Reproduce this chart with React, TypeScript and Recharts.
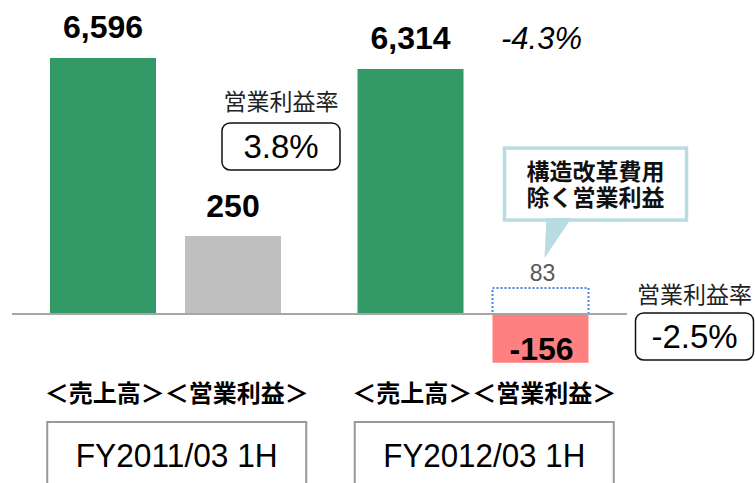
import React from 'react';
import {
  ComposedChart,
  Bar,
  Cell,
  XAxis,
  YAxis,
  LabelList,
  ReferenceLine,
} from 'recharts';

const periods = ['FY2011/03 1H', 'FY2012/03 1H'];
const sales = [6596, 6314];
const operatingProfit = [250, -156];
const profitExRestructuring = [null, 83];
const operatingMargin = ['3.8%', '-2.5%'];
const salesChange = [null, '-4.3%'];
const segmentLabel = '＜売上高＞＜営業利益＞';
const marginTitle = '営業利益率';
const calloutLines = ['構造改革費用', '除く営業利益'];

const data = periods.map((period, i) => ({
  period,
  sales: sales[i],
  profit: operatingProfit[i],
  exRestructuring: profitExRestructuring[i],
}));

const LATIN = "'Liberation Sans', Arial, 'Noto Sans CJK JP', sans-serif";
const CJK = "'Noto Sans CJK JP', 'Noto Sans CJK SC', sans-serif";

const profitColors = ['#bfbfbf', '#ff8080'];

const SalesLabel = (props: any) => {
  const { x, y, width, height, value, index } = props;
  const top = Math.min(y, y + height);
  const cx = x + width / 2;
  return (
    <g>
      <text x={cx} y={top - 20} textAnchor="middle" fontSize={32} fontWeight="bold" fontFamily={LATIN} fill="#000">
        {Number(value).toLocaleString('en-US')}
      </text>
      {salesChange[index] && (
        <text x={x + width + 78} y={top - 20} textAnchor="middle" fontSize={31} fontStyle="italic" fontFamily={LATIN} fill="#000">
          {salesChange[index]}
        </text>
      )}
    </g>
  );
};

const MarginBox = ({ cx, top, value }: { cx: number; top: number; value: string }) => (
  <g>
    <rect x={cx - 59} y={top} width={118} height={47} rx={8} fill="#fff" stroke="#111" strokeWidth={1.5} />
    <text x={cx} y={top + 35} textAnchor="middle" fontSize={33} fontFamily={LATIN} fill="#000">
      {value}
    </text>
  </g>
);

const ProfitLabel = (props: any) => {
  const { x, y, width, height, value, index } = props;
  const top = Math.min(y, y + height);
  const bottom = Math.max(y, y + height);
  const cx = x + width / 2;
  if (value >= 0) {
    const boxCx = x + width;
    const boxTop = top - 113;
    return (
      <g>
        <text x={cx} y={top - 19} textAnchor="middle" fontSize={32} fontWeight="bold" fontFamily={LATIN} fill="#000">
          {value}
        </text>
        <text x={boxCx} y={boxTop - 13} textAnchor="middle" fontSize={23} fontFamily={CJK} fill="#222">
          {marginTitle}
        </text>
        <MarginBox cx={boxCx} top={boxTop} value={operatingMargin[index]} />
      </g>
    );
  }
  const boxCx = x + width + 47 + 59;
  const boxTop = top - 1;
  return (
    <g>
      <text x={cx + 1} y={bottom - 3} textAnchor="middle" fontSize={32} fontWeight="bold" fontFamily={LATIN} fill="#000">
        {value}
      </text>
      <text x={boxCx} y={boxTop - 10} textAnchor="middle" fontSize={23} fontFamily={CJK} fill="#222">
        {marginTitle}
      </text>
      <MarginBox cx={boxCx} top={boxTop} value={operatingMargin[index]} />
    </g>
  );
};

const ExRestructuringLabel = (props: any) => {
  const { x, y, width, height, value } = props;
  if (value == null) return null;
  const top = Math.min(y, y + height);
  const cx = x + width / 2;
  const boxX = x + 12;
  const boxTop = top - 140;
  return (
    <g>
      <text x={cx + 2} y={top - 7} textAnchor="middle" fontSize={23} fontFamily={LATIN} fill="#595959">
        {value}
      </text>
      <rect x={boxX} y={boxTop} width={182} height={72} fill="#fff" stroke="#b7dde3" strokeWidth={3.5} />
      <polygon
        points={`${x + 54},${top - 70} ${x + 79},${top - 70} ${x + 52},${top - 30}`}
        fill="#b7dde3"
      />
      <text textAnchor="middle" fontSize={23} fontWeight="bold" fontFamily={CJK} fill="#111">
        {calloutLines.map((line, i) => (
          <tspan key={line} x={boxX + 91} y={boxTop + 32 + i * 26}>
            {line}
          </tspan>
        ))}
      </text>
    </g>
  );
};

const PeriodTick = (props: any) => {
  const { x, y, payload } = props;
  const cx = x + 11;
  return (
    <g>
      <text x={cx} y={y + 32} textAnchor="middle" fontSize={24} fontWeight="bold" fontFamily={CJK} fill="#000">
        {segmentLabel}
      </text>
      <rect x={cx - 129.5} y={y + 52} width={259} height={90} fill="none" stroke="#999" strokeWidth={2} />
      <text
        x={cx}
        y={y + 97}
        textAnchor="middle"
        fontSize={33}
        fontFamily={LATIN}
        fill="#000"
        textLength={202}
        lengthAdjust="spacingAndGlyphs"
      >
        {payload.value}
      </text>
    </g>
  );
};

export default function App() {
  return (
    <div style={{ position: 'absolute', left: 0, top: 0, width: 755, height: 483, background: '#fff' }}>
      <ComposedChart
        width={755}
        height={483}
        data={data}
        margin={{ top: 0, right: 128, bottom: 0, left: 12 }}
        barGap={29}
        stackOffset="sign"
      >
        <XAxis
          dataKey="period"
          axisLine={false}
          tickLine={false}
          tickSize={0}
          tickMargin={0}
          height={113}
          interval={0}
          tick={(p: any) => <PeriodTick {...p} />}
        />
        <YAxis yAxisId="s" hide domain={[-1443, 8090]} allowDataOverflow />
        <YAxis yAxisId="p" hide domain={[-179.5, 1006]} allowDataOverflow />
        <Bar yAxisId="s" dataKey="sales" stackId="s" fill="#339966" barSize={106} isAnimationActive={false}>
          <LabelList dataKey="sales" content={SalesLabel} />
        </Bar>
        <Bar yAxisId="p" dataKey="profit" stackId="p" barSize={96} isAnimationActive={false}>
          {data.map((d, i) => (
            <Cell key={d.period} fill={profitColors[i]} />
          ))}
          <LabelList dataKey="profit" content={ProfitLabel} />
        </Bar>
        <Bar
          yAxisId="p"
          dataKey="exRestructuring"
          stackId="p"
          barSize={96}
          fill="#ffffff"
          stroke="#4a86e8"
          strokeWidth={2}
          strokeDasharray="2 2"
          isAnimationActive={false}
        >
          <LabelList dataKey="exRestructuring" content={ExRestructuringLabel} />
        </Bar>
        <ReferenceLine yAxisId="s" y={0} stroke="#a6a6a6" strokeWidth={2} />
      </ComposedChart>
    </div>
  );
}
